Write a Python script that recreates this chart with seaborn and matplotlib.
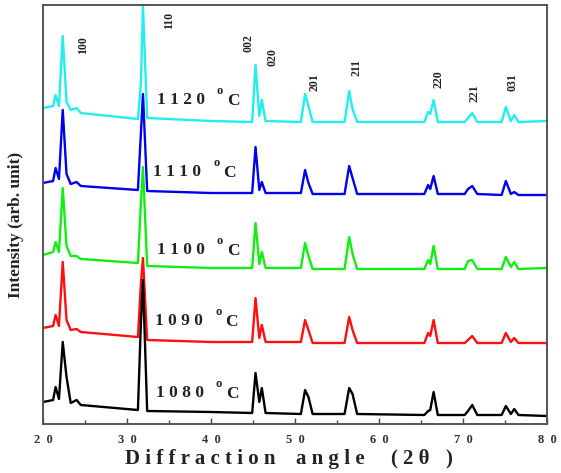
import numpy as np
import pandas as pd
import matplotlib.pyplot as plt
import seaborn as sns

two_theta = [20.0, 21.2, 21.5, 21.9, 22.35, 22.8, 23.3, 24.0, 24.5,
             31.3, 31.65, 31.9, 32.4, 40.0,
             44.9, 45.3, 45.75, 46.05, 46.5,
             50.7, 51.2, 51.6, 52.1,
             55.9, 56.45, 56.85, 57.4,
             65.4, 65.85, 66.1, 66.5, 67.0,
             70.2, 70.6, 71.1, 71.7,
             74.6, 75.1, 75.7, 76.1, 76.6, 80.0]

# intensities (arb. unit, already stacked with offsets as in the figure)
i_1120 = [316, 318, 329, 318, 388, 322, 314, 316, 311,
          305, 340, 418, 306, 303,
          302, 359, 308, 324, 303,
          302, 330, 318, 302,
          302, 333, 315, 302,
          302, 312, 310, 324, 302,
          302, 306, 311, 302,
          302, 317, 303, 309, 302, 303]
i_1110 = [241, 243, 256, 245, 314, 250, 240, 242, 238,
          234, 290, 330, 233, 231,
          231, 277, 234, 242, 231,
          231, 254, 241, 230,
          230, 258, 246, 230,
          230, 239, 235, 248, 230,
          230, 235, 238, 230,
          229, 243, 230, 232, 229, 229]
i_1100 = [169, 172, 182, 172, 236, 178, 168, 168, 165,
          161, 220, 257, 158, 156,
          156, 201, 160, 172, 156,
          156, 181, 168, 155,
          155, 187, 170, 155,
          155, 164, 160, 178, 155,
          155, 163, 164, 155,
          155, 167, 157, 162, 155, 156]
i_1090 = [96, 98, 109, 98, 162, 104, 94, 95, 92,
          87, 140, 166, 84, 82,
          82, 126, 86, 99, 82,
          82, 104, 94, 81,
          81, 107, 94, 81,
          81, 91, 88, 104, 81,
          81, 84, 88, 81,
          81, 91, 82, 86, 81, 81]
i_1080 = [22, 24, 37, 25, 82, 47, 21, 24, 19,
          14, 100, 144, 13, 12,
          11, 51, 22, 36, 11,
          10, 34, 27, 10,
          10, 36, 30, 10,
          9, 13, 14, 32, 9,
          9, 13, 19, 9,
          9, 18, 10, 15, 9, 8]

temps = ["1 1 2 0", "1 1 1 0", "1 1 0 0", "1 0 9 0", "1 0 8 0"]
series = [i_1120, i_1110, i_1100, i_1090, i_1080]
colors = ["#22EEEE", "#0000EE", "#11EE11", "#FF1010", "#000000"]

hkl = ["100", "110", "002", "020", "201", "211", "220", "221", "031"]
xticks = [20, 30, 40, 50, 60, 70, 80]

rows = []
for t, vals in zip(temps, series):
    for x, y in zip(two_theta, vals):
        rows.append((x, y, t))
df = pd.DataFrame(rows, columns=["two_theta", "intensity", "sample"])

sns.set_style("ticks")
plt.rcParams["font.family"] = ["Liberation Serif", "DejaVu Serif"]
plt.rcParams["xtick.direction"] = "in"

fig = plt.figure(figsize=(5.61, 4.73), dpi=100)
ax = fig.add_axes([43 / 561, 49 / 473, 504 / 561, 419 / 473])

sns.lineplot(data=df, x="two_theta", y="intensity", hue="sample",
             hue_order=temps, palette=colors, sort=False, estimator=None,
             legend=False, linewidth=1.7, ax=ax)

ax.set_xlim(20, 80)
ax.set_ylim(0, 419)
ax.set_yticks([])
ax.set_xticks(xticks)
ax.set_xticks([25, 35, 45, 55, 65, 75], minor=True)
ax.set_xticklabels(["  ".join(str(v)) for v in xticks], fontsize=9,
                   fontweight="bold", color="#333333")
ax.tick_params(axis="x", which="major", length=4, width=1, color="#444444", pad=7)
ax.tick_params(axis="x", which="minor", length=3, width=1, color="#444444")
for s in ax.spines.values():
    s.set_color("#555555")
    s.set_linewidth(1.4)
ax.set_xlabel("")
ax.set_ylabel("")


def px(x, y):
    return 20 + (x - 43) / 8.4, 424 - y


# temperature labels
label_px = [(157, 100), (153, 172), (157, 250), (155, 321), (156, 393)]
for t, (lx, ly) in zip(temps, label_px):
    ax.text(*px(lx, ly), t, fontsize=12.5, fontweight="bold", ha="left",
            va="center", color="#222222")
    ax.text(*px(lx + 60, ly - 9), "o", fontsize=9, fontweight="bold",
            ha="left", va="center", color="#222222")
    ax.text(*px(lx + 70, ly + 1), "C", fontsize=12.5, fontweight="bold",
            ha="left", va="center", color="#222222")

# reflection labels
hkl_px = [(83, 45), (169, 20), (248, 43), (272, 57), (315, 82),
          (356, 68), (438, 79), (475, 93), (513, 82)]
for h, (hx, hy) in zip(hkl, hkl_px):
    ax.text(*px(hx, hy), h, fontsize=8.5, fontweight="bold", rotation=90,
            ha="center", va="center", color="#222222")

# x axis title, word by word to keep the wide spacing of the original
for word, wx in [("D i f f r a c t i o n", 125), ("a n g l e", 296),
                 ("(", 390), ("2 θ", 403), (")", 445)]:
    fig.text(wx / 561, 1 - 459 / 473, word, fontsize=15, fontweight="bold",
             ha="left", va="center", color="#222222")
fig.text(16 / 561, 1 - 225 / 473, "Intensity (arb. unit)", fontsize=12.5,
         fontweight="bold", rotation=90, ha="center", va="center",
         color="#222222")

plt.savefig("out.png", dpi=100)
plt.close()
